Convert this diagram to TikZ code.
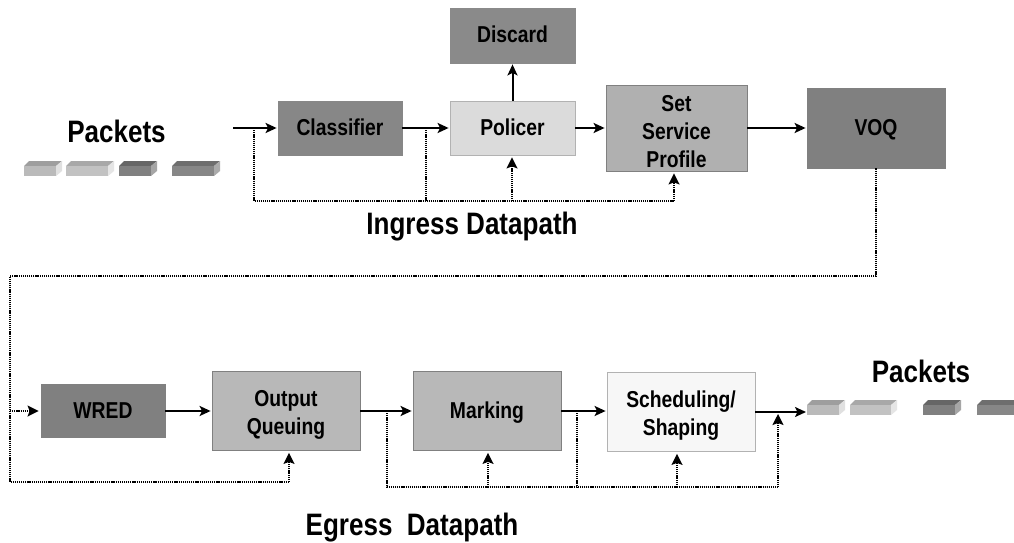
\documentclass[tikz,border=0pt]{standalone}
\usepackage{fontspec}
\setmainfont{Liberation Sans}[FakeStretch=0.84]
\usetikzlibrary{arrows.meta}
\newcommand{\dropline}{\rule{0pt}{23pt}}
\tikzset{
  block/.style={draw=#1,line width=0.8pt,inner sep=0pt,align=center,
    font=\fontsize{23}{28}\selectfont\bfseries,text=black},
  oneline/.style={text height=15pt,text depth=0pt},
  title/.style={inner sep=0pt,font=\fontsize{31}{34}\selectfont\bfseries,text=black},
  solid link/.style={line width=2pt,shorten >=1pt,-{Stealth[length=11pt,width=10pt,inset=2.5pt]}},
  plain dots/.style={line width=1.6pt,dash pattern=on 1.2pt off 0.9pt},
  dots arrow/.style={plain dots,shorten >=2pt,-{Stealth[length=11pt,width=11pt,inset=2pt]}},
}
\newcommand{\packet}[6]{% x0 x1 ytop front top side
  \fill[#5] (#1+5,#3) -- (#2,#3) -- (#2-6,#3+5) -- (#1,#3+5) -- cycle;
  \fill[#4] (#1,#3+5) rectangle (#2-6,#3+15);
  \fill[#6] (#2-6,#3+5) -- (#2,#3) -- (#2,#3+10) -- (#2-6,#3+15) -- cycle;
}
\begin{document}
\begin{tikzpicture}[x=1pt,y=-1pt]
\useasboundingbox (0,0) rectangle (1014,543);
\fill[white] (0,0) rectangle (1014,543);
% packets
\packet{24}{62}{161}{black!27}{black!38}{black!12}
\packet{66}{114}{161}{black!24}{black!34}{black!10}
\packet{119}{157}{161}{black!50}{black!60}{black!35}
\packet{172}{220}{161}{black!47}{black!57}{black!33}
\packet{807}{845}{400}{black!27}{black!38}{black!12}
\packet{850}{897}{400}{black!24}{black!34}{black!10}
\packet{923}{961}{400}{black!50}{black!60}{black!35}
\packet{977}{1020}{400}{black!47}{black!57}{black!33}
% blocks
\node[block=black!46,fill=black!46,oneline,minimum width=125pt,minimum height=55pt] (discard) at (512.5,35.5) {Discard};
\node[block=black!47,fill=black!47,oneline,minimum width=124pt,minimum height=54pt] (classifier) at (340,128) {Classifier};
\node[block=black!30,fill=black!14,oneline,minimum width=125pt,minimum height=54pt] (policer) at (512.5,128) {Policer};
\node[block=black!50,fill=black!31,minimum width=141pt,minimum height=86pt] (profile) at (676.5,128) {\dropline Set\\Service\\Profile};
\node[block=black!50,fill=black!50,oneline,minimum width=138pt,minimum height=80pt] (voq) at (876,128) {VOQ};
\node[block=black!50,fill=black!50,oneline,minimum width=124pt,minimum height=53pt] (wred) at (103,411) {WRED};
\node[block=black!50,fill=black!28,minimum width=148pt,minimum height=79pt] (output) at (286,411) {\dropline Output\\Queuing};
\node[block=black!50,fill=black!28,oneline,minimum width=148pt,minimum height=79pt] (marking) at (487,411) {Marking};
\node[block=black!30,fill=black!3,minimum width=148pt,minimum height=79pt] (sched) at (681,412) {\dropline Scheduling/\\Shaping};
% titles
\node[title] (p1) at (116.5,131) {Packets};
\node[title] (p2) at (921,371) {Packets};
\node[title] (ingress) at (472,226.5) {Ingress Datapath};
\node[title] (egress) at (412,527.5) {Egress\ \ Datapath};
% free ends
\coordinate (in) at (233,128);
\coordinate (out) at (807,412);
\coordinate (a1) at (254,128);
\coordinate (a2) at (426,128);
\coordinate (b1) at (254,201);
\coordinate (b2) at (426,201);
\coordinate (b3) at (512,201);
\coordinate (b4) at (674,201);
\coordinate (c1) at (10,276);
\coordinate (c2) at (10,482);
\coordinate (c3) at (10,411);
\coordinate (d1) at (289,482);
\coordinate (e1) at (387,411);
\coordinate (e2) at (577,411);
\coordinate (e3) at (778,412);
\coordinate (f1) at (387,487);
\coordinate (f2) at (488,487);
\coordinate (f3) at (577,487);
\coordinate (f4) at (677,487);
\coordinate (f5) at (778,487);
% solid
\draw[solid link] (in) -- (classifier.west);
\draw[solid link] (classifier.east) -- (policer.west);
\draw[solid link] (policer.north) -- (discard.south);
\draw[solid link] (policer.east) -- (profile.west);
\draw[solid link] (profile.east) -- (voq.west);
\draw[solid link] (wred.east) -- (output.west);
\draw[solid link] (output.east) -- (marking.west);
\draw[solid link] (marking.east) -- (marking.east -| sched.west);
\draw[solid link] (sched.east) -- (out);
% dotted
\draw[plain dots] (a1) -- (b1) -- (b4);
\draw[plain dots] (a2) -- (b2);
\draw[dots arrow] (b3) -- (b3 |- policer.south);
\draw[dots arrow] (b4) -- (b4 |- profile.south);
\draw[plain dots] (voq.south) -- (voq.south |- c1) -- (c1) -- (c2) -- (d1);
\draw[dots arrow] (c3) -- (wred.west);
\draw[dots arrow] (d1) -- (d1 |- output.south);
\draw[plain dots] (e1) -- (f1) -- (f5);
\draw[plain dots] (e2) -- (f3);
\draw[dots arrow] (f2) -- (f2 |- marking.south);
\draw[dots arrow] (f4) -- (f4 |- sched.south);
\draw[dots arrow] (f5) -- (e3);
\end{tikzpicture}
\end{document}
